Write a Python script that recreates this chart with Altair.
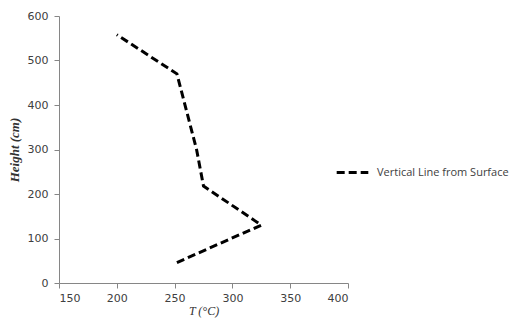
import altair as alt
import pandas as pd

temps = [252, 325, 275, 269, 252, 200]
heights = [46, 130, 218, 300, 470, 558]
order = [0, 1, 2, 3, 4, 5]
series = ["Vertical Line from Surface"] * 6

df = pd.DataFrame({"T": temps, "H": heights, "o": order, "s": series})

line = alt.Chart(df).mark_line(strokeDash=[8, 4], strokeWidth=3).encode(
    x=alt.X("T:Q", scale=alt.Scale(domain=[150, 400], nice=False),
            axis=alt.Axis(values=[150, 200, 250, 300, 350, 400], title="T (°C)",
                          titleFont="Liberation Serif", titleFontStyle="italic",
                          titleFontWeight="normal", titleFontSize=12, titleColor="#333333",
                          titlePadding=2, labelPadding=4)),
    y=alt.Y("H:Q", scale=alt.Scale(domain=[0, 600], nice=False),
            axis=alt.Axis(values=[0, 100, 200, 300, 400, 500, 600], title="Height (cm)",
                          titleFont="Liberation Serif", titleFontStyle="italic",
                          titleFontWeight="bold", titleFontSize=13, titleColor="#333333",
                          titlePadding=6, labelPadding=6)),
    order="o:Q",
    color=alt.Color("s:N", scale=alt.Scale(range=["#000000"]),
                    legend=alt.Legend(title=None, orient="none", legendX=276, legendY=139,
                                      symbolType="stroke", symbolStrokeWidth=3,
                                      symbolDash=[8, 4], symbolSize=1000, labelOffset=7,
                                      labelFont="Open Sans", labelFontSize=11,
                                      labelColor="#404040")),
)

chart = line.properties(
    width=289, height=267,
    padding={"left": 51, "top": 8, "right": 167, "bottom": 36},
    autosize=alt.AutoSizeParams(type="none"),
).configure_view(stroke=None).configure_axis(
    grid=False, domainColor="#868686", tickColor="#868686", tickSize=5,
    labelFont="DejaVu Sans", labelFontSize=11, labelColor="#404040",
)

chart.save("out.html", embed_options={"renderer": "svg", "actions": False})
